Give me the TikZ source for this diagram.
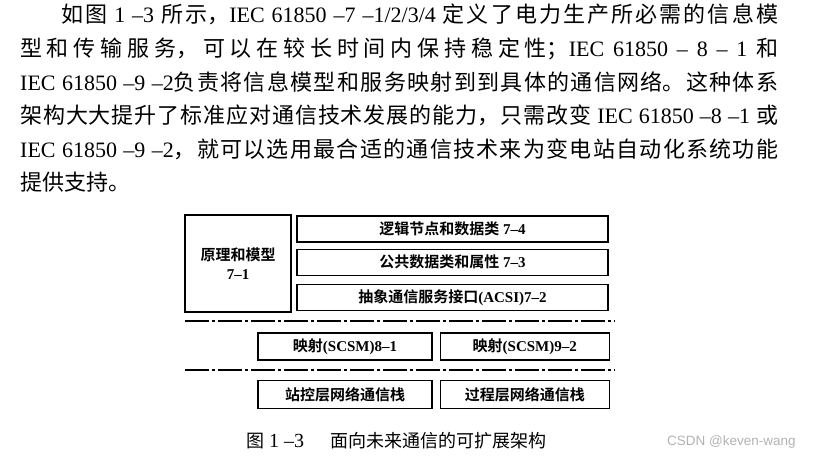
\documentclass[tikz,border=0pt]{standalone}
\usepackage{fontspec}
\setmainfont{Noto Sans CJK SC}[BoldFont={Noto Sans CJK SC Bold}]
\newfontfamily\enfont{Liberation Serif}
\newfontfamily\wmfont{Liberation Sans}
\newcommand{\en}[1]{{\enfont #1}}
\usetikzlibrary{positioning}
\XeTeXlinebreaklocale "zh"
\XeTeXlinebreakskip=0pt plus 4pt minus 0.3pt
\tikzset{
  layerbox/.style={draw=black, line width=1.3pt, inner sep=0pt,
    font=\bfseries\fontsize{15}{19}\selectfont},
  modelbox/.style={layerbox, minimum width=106pt, minimum height=97pt, align=center},
  widebox/.style={layerbox, minimum width=311pt, minimum height=26pt},
  mapbox/.style={layerbox, minimum height=27pt},
  sepline/.style={line width=1.1pt, dash pattern=on 24pt off 3pt on 3pt off 3pt}
}
\begin{document}
\begin{tikzpicture}[x=1pt, y=-1pt, node distance=6pt and 7pt]
    \useasboundingbox (0,0) rectangle (814,457);

    % text above the figure
    \node[anchor=base west, inner sep=0pt, text width=758pt, align=justify,
      font=\fontsize{22}{33.6}\selectfont] (intro) at (20,23) {%
      \hspace*{41pt}如图\en{ 1 –3 }所示，\en{IEC 61850 –7 –1/2/3/4 }定义了电力生产所必需的信息模\linebreak
      型和传输服务，可以在较长时间内保持稳定性；\en{IEC 61850 – 8 – 1 }和\linebreak
      \en{IEC 61850 –9 –2}负责将信息模型和服务映射到到具体的通信网络。这种体系\linebreak
      架构大大提升了标准应对通信技术发展的能力，只需改变\en{ IEC 61850 –8 –1 }或\linebreak
      \en{IEC 61850 –9 –2}，就可以选用最合适的通信技术来为变电站自动化系统功能\linebreak
      提供支持。};

    % model layers
    \node[modelbox] (model71) at (238,263.5) {原理和模型\\\en{7–1}};
    \node[widebox] (ln74) at (452.5,229) {逻辑节点和数据类\en{ 7–4}};
    \node[widebox, below=of ln74] (cdc73) {公共数据类和属性\en{ 7–3}};
    \node[widebox, below=8pt of cdc73] (acsi72) {抽象通信服务接口\en{(ACSI)7–2}};

    \draw[sepline] (185,321) -- (615,321);

    % mappings
    \node[mapbox, minimum width=174pt] (scsm81) at (345,346.5) {映射\en{(SCSM)8–1}};
    \node[mapbox, minimum width=169pt, right=of scsm81] (scsm92) {映射\en{(SCSM)9–2}};

    \draw[sepline] (185,370) -- (615,370);

    % network stacks
    \node[mapbox, minimum width=174pt, minimum height=28pt, below=19pt of scsm81] (stastack) {站控层网络通信栈};
    \node[mapbox, minimum width=169pt, minimum height=28pt, below=19pt of scsm92] (prostack) {过程层网络通信栈};

    % caption
    \node[anchor=base west, inner sep=0pt, font=\fontsize{18}{18}\selectfont] (caption) at (246,447)
      {图\en{\fontsize{20}{20}\selectfont{} 1 –3}\hspace{26pt}面向未来通信的可扩展架构};
    \node[anchor=base west, inner sep=0pt, text=gray!60, font=\wmfont\fontsize{13.5}{13.5}\selectfont] (mark) at (667,445)
      {CSDN @keven-wang};
\end{tikzpicture}
\end{document}
